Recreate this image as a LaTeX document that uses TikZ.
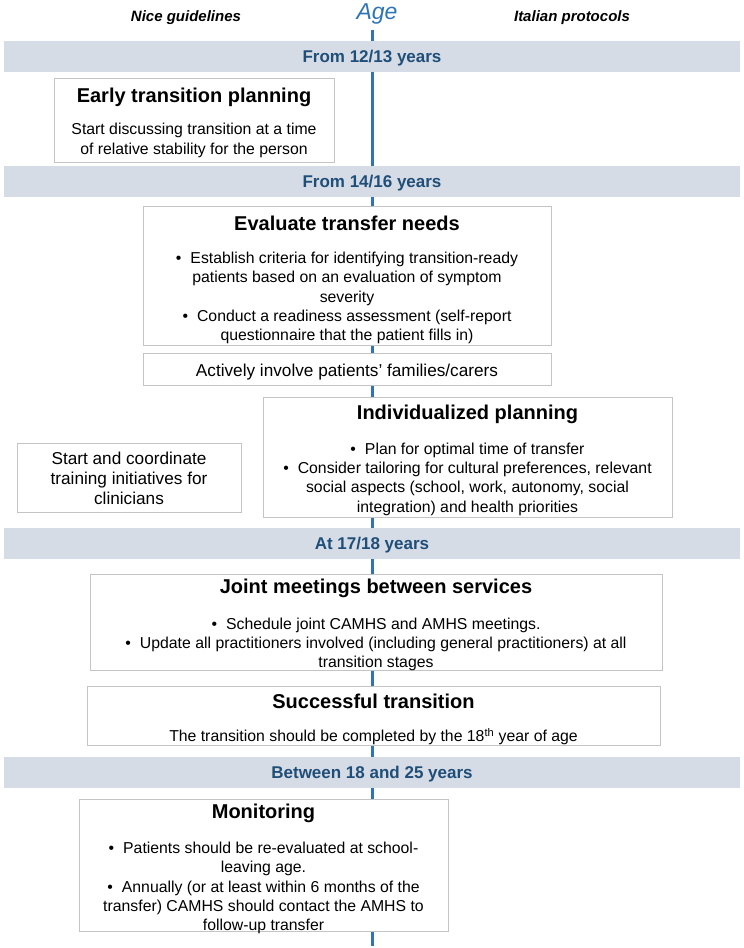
\documentclass[tikz,border=0pt]{standalone}
\usepackage{fontspec}
\setmainfont{Liberation Sans}
\definecolor{bandfill}{HTML}{D6DCE5}
\definecolor{bandtext}{HTML}{1F4E79}
\definecolor{axisblue}{HTML}{2E75B6}
\definecolor{boxline}{HTML}{C4C4C4}
\begin{document}
\begin{tikzpicture}[x=1pt,y=-1pt,
  bandbox/.style={fill=bandfill, draw=none, minimum width=736pt, minimum height=31pt,
    inner sep=0pt, anchor=north west},
  bandlabel/.style={font=\fontsize{17}{20}\selectfont\bfseries, text=bandtext, inner sep=0pt},
  frame/.style={draw=boxline, line width=1.3pt, fill=white, inner sep=0pt, anchor=north west},
  titletext/.style={font=\fontsize{20}{24}\selectfont\bfseries, inner sep=0pt},
  bodytext/.style={font=\fontsize{15.8}{19.3}\selectfont, align=center, inner sep=0pt},
  bigbody/.style={font=\fontsize{17.2}{20}\selectfont, align=center, inner sep=0pt},
  headtext/.style={font=\fontsize{15}{18}\selectfont\bfseries\itshape, inner sep=0pt},
  axis/.style={draw=axisblue, line width=3pt}
]
\useasboundingbox[fill=white] (0,0) rectangle (744,948);

% headers
\node[headtext] (hnice) at (186,18) {Nice guidelines};
\node[font=\fontsize{23}{26}\selectfont\itshape, text=axisblue, inner sep=0pt] (hage) at (377,13.5) {Age};
\node[headtext] (hital) at (572,18) {Italian protocols};

% timeline
\coordinate (ltop) at (372,30);
\coordinate (lbot) at (372,946);
\draw[axis] (ltop) -- (lbot);

% bands
\node[bandbox] (band1) at (4,41) {};
\node[bandlabel] (band1t) at (372,58.5) {From 12/13 years};
\node[bandbox] (band2) at (4,166) {};
\node[bandlabel] (band2t) at (372,183.5) {From 14/16 years};
\node[bandbox] (band3) at (4,528) {};
\node[bandlabel] (band3t) at (372,545.5) {At 17/18 years};
\node[bandbox] (band4) at (4,757) {};
\node[bandlabel] (band4t) at (372,774.5) {Between 18 and 25 years};

% Early transition planning
\node[frame, minimum width=280pt, minimum height=84pt] (early) at (54,78) {};
\node[titletext] (earlyT) at (194,97.5) {Early transition planning};
\node[bodytext] (earlyB) at (194,140.5) {Start discussing transition at a time\\of relative stability for the person};

% Evaluate transfer needs
\node[frame, minimum width=408pt, minimum height=139pt] (eval) at (143,206) {};
\node[titletext] (evalT) at (347,223.5) {Evaluate transfer needs};
\node[bodytext] (evalB) at (347,298) {•\hspace{9pt}Establish criteria for identifying transition-ready\\patients based on an evaluation of symptom\\severity\\•\hspace{9pt}Conduct a readiness assessment (self-report\\questionnaire that the patient fills in)};

% Actively involve
\node[frame, minimum width=408pt, minimum height=32pt] (involve) at (143,353) {};
\node[bigbody] (involveT) at (347,372) {Actively involve patients’ families/carers};

% Individualized planning
\node[frame, minimum width=409pt, minimum height=120pt] (indiv) at (263,397) {};
\node[titletext] (indivT) at (467.5,414.5) {Individualized planning};
\node[bodytext] (indivB) at (467.5,479) {•\hspace{9pt}Plan for optimal time of transfer\\•\hspace{9pt}Consider tailoring for cultural preferences, relevant\\social aspects (school, work, autonomy, social\\integration) and health priorities};

% Training
\node[frame, minimum width=224pt, minimum height=69pt] (train) at (17,443) {};
\node[bigbody] (trainT) at (129,478) {Start and coordinate\\training initiatives for\\clinicians};

% Joint meetings
\node[frame, minimum width=572pt, minimum height=96pt] (joint) at (90,574) {};
\node[titletext] (jointT) at (376,588.5) {Joint meetings between services};
\node[bodytext] (jointB) at (376,644.5) {•\hspace{9pt}Schedule joint CAMHS and AMHS meetings.\\•\hspace{9pt}Update all practitioners involved (including general practitioners) at all\\transition stages};

% Successful transition
\node[frame, minimum width=573pt, minimum height=59pt] (succ) at (87,686) {};
\node[titletext] (succT) at (373.5,701) {Successful transition};
\node[bodytext] (succB) at (373.5,737) {The transition should be completed by the 18\textsuperscript{th} year of age};

% Monitoring
\node[frame, minimum width=369pt, minimum height=132pt] (monit) at (79,799) {};
\node[titletext] (monitT) at (263.5,813.5) {Monitoring};
\node[bodytext] (monitB) at (263.5,888) {•\hspace{9pt}Patients should be re-evaluated at school-\\leaving age.\\•\hspace{9pt}Annually (or at least within 6 months of the\\transfer) CAMHS should contact the AMHS to\\follow-up transfer};
\end{tikzpicture}
\end{document}
